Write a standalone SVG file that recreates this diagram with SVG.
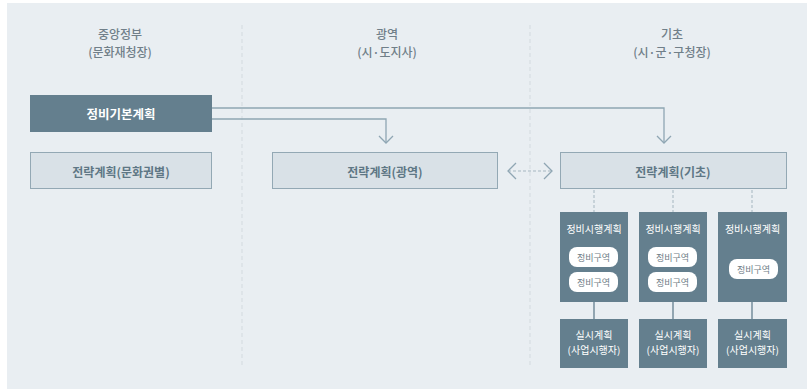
<svg xmlns="http://www.w3.org/2000/svg" width="811" height="390" viewBox="0 0 811 390">
<defs>
<style>
text{font-family:"Noto Sans CJK KR","Noto Sans",sans-serif;text-anchor:middle;dominant-baseline:central}
.hd{font-size:12px;fill:#707f89;font-weight:500}
.dark{fill:#647f8e}
.light{fill:#d9e1e7;stroke:#93a8b4;stroke-width:1}
.lt{font-size:12px;fill:#5e7785;font-weight:700}
.wt{fill:#ffffff}
.pill{fill:#ffffff}
.pt{font-size:9px;fill:#6e7c86}
.st{font-size:10px;fill:#ffffff}
.div{stroke:#d3dadf;stroke-width:1;stroke-dasharray:4 3;fill:none}
.ln{stroke:#8fa6b3;stroke-width:1.3;fill:none}
.dash{stroke:#a5b6c0;stroke-width:1;stroke-dasharray:3 2;fill:none}
.solid{stroke:#647f8e;stroke-width:1.3;fill:none}
</style>
</defs>
<rect x="7" y="3" width="800" height="386" fill="#e9eef2"/>
<g id="dividers">
<line class="div" x1="242" y1="25" x2="242" y2="366"/>
<line class="div" x1="530" y1="25" x2="530" y2="366"/>
</g>
<g id="headers">
<text class="hd" x="120" y="33">중앙정부</text>
<text class="hd" x="120" y="51">(문화재청장)</text>
<text class="hd" x="387" y="33">광역</text>
<text class="hd" x="387" y="51">(시·도지사)</text>
<text class="hd" x="672" y="33">기초</text>
<text class="hd" x="672" y="51">(시·군·구청장)</text>
</g>
<g id="connectors">
<polyline class="ln" points="212,108 664,108 664,143"/>
<polyline class="ln" points="212,119 386,119 386,143"/>
<polyline class="ln" points="657,136 664,143 671,136"/>
<polyline class="ln" points="379,136 386,143 393,136"/>
<line class="dash" x1="508" y1="171" x2="552" y2="171"/>
<polyline class="ln" points="516,163 508,171 516,179" stroke-width="1"/>
<polyline class="ln" points="544,163 552,171 544,179" stroke-width="1"/>
<line class="dash" x1="594" y1="190" x2="594" y2="212"/>
<line class="dash" x1="673" y1="190" x2="673" y2="212"/>
<line class="dash" x1="752" y1="190" x2="752" y2="212"/>
<line class="solid" x1="594" y1="302" x2="594" y2="319"/>
<line class="solid" x1="673" y1="302" x2="673" y2="319"/>
<line class="solid" x1="752" y1="302" x2="752" y2="319"/>
</g>
<g id="node-basic">
<rect class="dark" x="30" y="95" width="182" height="37"/>
<text class="wt" x="121" y="113.5" font-size="12.5" font-weight="700">정비기본계획</text>
</g>
<g id="node-strategy-culture">
<rect class="light" x="30.5" y="152.5" width="181" height="36"/>
<text class="lt" x="121" y="171">전략계획(문화권별)</text>
</g>
<g id="node-strategy-wide">
<rect class="light" x="272.5" y="152.5" width="225" height="36"/>
<text class="lt" x="385" y="171">전략계획(광역)</text>
</g>
<g id="node-strategy-basic">
<rect class="light" x="560.5" y="152.5" width="226" height="36"/>
<text class="lt" x="673" y="171">전략계획(기초)</text>
</g>
<g id="node-exec-1">
<rect class="dark" x="560" y="212" width="68" height="90"/>
<text class="st" x="594" y="228">정비시행계획</text>
<rect class="pill" x="569" y="247" width="49" height="20" rx="8"/>
<text class="pt" x="593.5" y="257">정비구역</text>
<rect class="pill" x="569" y="272" width="49" height="20" rx="8"/>
<text class="pt" x="593.5" y="282">정비구역</text>
</g>
<g id="node-exec-2">
<rect class="dark" x="639" y="212" width="68" height="90"/>
<text class="st" x="673" y="228">정비시행계획</text>
<rect class="pill" x="648" y="247" width="49" height="20" rx="8"/>
<text class="pt" x="672.5" y="257">정비구역</text>
<rect class="pill" x="648" y="272" width="49" height="20" rx="8"/>
<text class="pt" x="672.5" y="282">정비구역</text>
</g>
<g id="node-exec-3">
<rect class="dark" x="718" y="212" width="69" height="90"/>
<text class="st" x="752.5" y="228">정비시행계획</text>
<rect class="pill" x="729" y="259" width="49" height="20" rx="8"/>
<text class="pt" x="753.5" y="269">정비구역</text>
</g>
<g id="node-impl-1">
<rect class="dark" x="560" y="319" width="68" height="49"/>
<text class="st" x="594" y="334">실시계획</text>
<text class="st" x="594" y="349">(사업시행자)</text>
</g>
<g id="node-impl-2">
<rect class="dark" x="639" y="319" width="68" height="49"/>
<text class="st" x="673" y="334">실시계획</text>
<text class="st" x="673" y="349">(사업시행자)</text>
</g>
<g id="node-impl-3">
<rect class="dark" x="718" y="319" width="69" height="49"/>
<text class="st" x="752.5" y="334">실시계획</text>
<text class="st" x="752.5" y="349">(사업시행자)</text>
</g>
</svg>
